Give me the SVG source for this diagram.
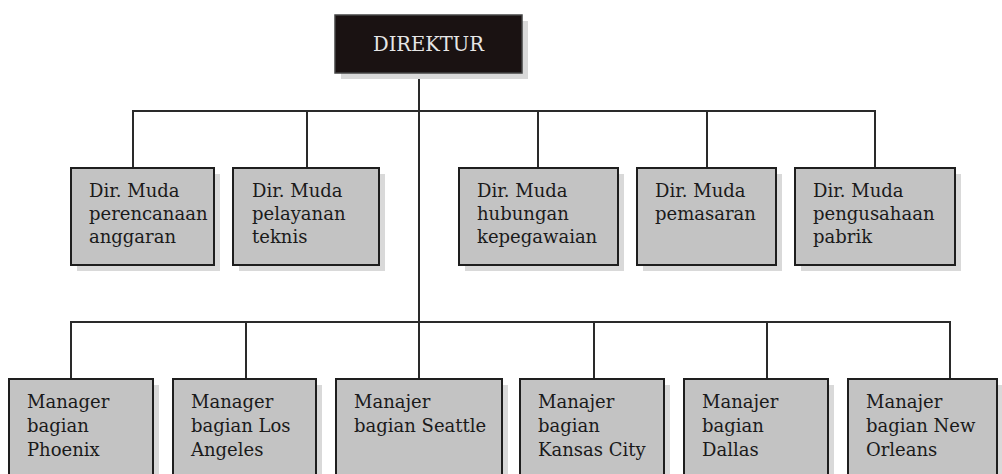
<svg xmlns="http://www.w3.org/2000/svg" width="1002" height="474" viewBox="0 0 1002 474">
  <style>
    .shadow { fill: #d9d9d9; }
    .box { fill: #c3c3c3; stroke: #1e1e1e; stroke-width: 2; }
    .head { fill: #1a1212; stroke: #444; stroke-width: 1.5; }
    .lbl { font-family: "DejaVu Serif", "Liberation Serif", serif; font-size: 18px; fill: #1a1a1a; }
    .headlbl { font-family: "DejaVu Serif", "Liberation Serif", serif; font-size: 19.5px; fill: #e6e6e6; text-anchor: middle; }
    .wire { fill: none; stroke: #2a2a2a; stroke-width: 2; }
  </style>
  <rect width="1002" height="474" fill="#ffffff"/>

  <!-- connectors -->
  <g id="connectors">
    <path class="wire" d="M419,73 V322"/>
    <path class="wire" d="M133,168 V111 H875 V168"/>
    <path class="wire" d="M307,111 V168"/>
    <path class="wire" d="M538,111 V168"/>
    <path class="wire" d="M707,111 V168"/>
    <path class="wire" d="M71,379 V322 H950 V379"/>
    <path class="wire" d="M246,322 V379"/>
    <path class="wire" d="M419,322 V379"/>
    <path class="wire" d="M594,322 V379"/>
    <path class="wire" d="M767,322 V379"/>
  </g>

  <!-- top -->
  <g id="direktur">
    <rect class="shadow" x="341" y="21" width="187" height="58"/>
    <rect class="head" x="335" y="15" width="187" height="58"/>
    <text class="headlbl" x="428.5" y="51">DIREKTUR</text>
  </g>

  <!-- deputy directors -->
  <g id="dm-perencanaan">
    <rect class="shadow" x="77" y="174" width="143" height="97"/>
    <rect class="box" x="71" y="168" width="143" height="97"/>
    <text class="lbl" x="89" y="197">Dir. Muda</text>
    <text class="lbl" x="89" y="220">perencanaan</text>
    <text class="lbl" x="89" y="243">anggaran</text>
  </g>
  <g id="dm-pelayanan">
    <rect class="shadow" x="239" y="174" width="146" height="97"/>
    <rect class="box" x="233" y="168" width="146" height="97"/>
    <text class="lbl" x="252" y="197">Dir. Muda</text>
    <text class="lbl" x="252" y="220">pelayanan</text>
    <text class="lbl" x="252" y="243">teknis</text>
  </g>
  <g id="dm-hubungan">
    <rect class="shadow" x="465" y="174" width="159" height="97"/>
    <rect class="box" x="459" y="168" width="159" height="97"/>
    <text class="lbl" x="477" y="197">Dir. Muda</text>
    <text class="lbl" x="477" y="220">hubungan</text>
    <text class="lbl" x="477" y="243">kepegawaian</text>
  </g>
  <g id="dm-pemasaran">
    <rect class="shadow" x="643" y="174" width="139" height="97"/>
    <rect class="box" x="637" y="168" width="139" height="97"/>
    <text class="lbl" x="655" y="197">Dir. Muda</text>
    <text class="lbl" x="655" y="220">pemasaran</text>
  </g>
  <g id="dm-pengusahaan">
    <rect class="shadow" x="801" y="174" width="160" height="97"/>
    <rect class="box" x="795" y="168" width="160" height="97"/>
    <text class="lbl" x="813" y="197">Dir. Muda</text>
    <text class="lbl" x="813" y="220">pengusahaan</text>
    <text class="lbl" x="813" y="243">pabrik</text>
  </g>

  <!-- branch managers -->
  <g id="mgr-phoenix">
    <rect class="shadow" x="15" y="385" width="144" height="100"/>
    <rect class="box" x="9" y="379" width="144" height="100"/>
    <text class="lbl" x="27" y="408">Manager</text>
    <text class="lbl" x="27" y="432">bagian</text>
    <text class="lbl" x="27" y="456">Phoenix</text>
  </g>
  <g id="mgr-losangeles">
    <rect class="shadow" x="179" y="385" width="143" height="100"/>
    <rect class="box" x="173" y="379" width="143" height="100"/>
    <text class="lbl" x="191" y="408">Manager</text>
    <text class="lbl" x="191" y="432">bagian Los</text>
    <text class="lbl" x="191" y="456">Angeles</text>
  </g>
  <g id="mgr-seattle">
    <rect class="shadow" x="342" y="385" width="166" height="100"/>
    <rect class="box" x="336" y="379" width="166" height="100"/>
    <text class="lbl" x="354" y="408">Manajer</text>
    <text class="lbl" x="354" y="432">bagian Seattle</text>
  </g>
  <g id="mgr-kansascity">
    <rect class="shadow" x="526" y="385" width="144" height="100"/>
    <rect class="box" x="520" y="379" width="144" height="100"/>
    <text class="lbl" x="538" y="408">Manajer</text>
    <text class="lbl" x="538" y="432">bagian</text>
    <text class="lbl" x="538" y="456">Kansas City</text>
  </g>
  <g id="mgr-dallas">
    <rect class="shadow" x="690" y="385" width="144" height="100"/>
    <rect class="box" x="684" y="379" width="144" height="100"/>
    <text class="lbl" x="702" y="408">Manajer</text>
    <text class="lbl" x="702" y="432">bagian</text>
    <text class="lbl" x="702" y="456">Dallas</text>
  </g>
  <g id="mgr-neworleans">
    <rect class="shadow" x="854" y="385" width="149" height="100"/>
    <rect class="box" x="848" y="379" width="149" height="100"/>
    <text class="lbl" x="866" y="408">Manajer</text>
    <text class="lbl" x="866" y="432">bagian New</text>
    <text class="lbl" x="866" y="456">Orleans</text>
  </g>
</svg>
